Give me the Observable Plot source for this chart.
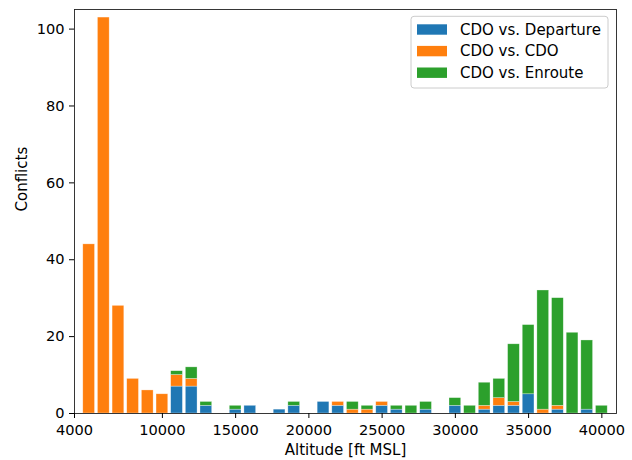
<!DOCTYPE html>
<html><head><meta charset="utf-8">
<script src="https://cdn.jsdelivr.net/npm/d3@7"></script>
<script src="https://cdn.jsdelivr.net/npm/@observablehq/plot@0.6"></script>
<style>body{margin:0;background:#fff} #chart{width:632px;height:460px}</style>
</head><body><div id="chart"></div>
<script>
const altitudes = [5000,6000,7000,8000,9000,10000,11000,12000,13000,14000,15000,16000,17000,18000,19000,20000,21000,22000,23000,24000,25000,26000,27000,28000,29000,30000,31000,32000,33000,34000,35000,36000,37000,38000,39000,40000];
const departure = [0,0,0,0,0,0, 7,7,2,0,1,2,0,1,2,0, 3,2,0,0,2,1,0,1,0,2, 0,1,2,2,5,0,1,0,1,0];
const cdo       = [44,103,28,9,6,5, 3,2,0,0,0,0,0,0,0,0, 0,1,1,1,1,0,0,0,0,0, 0,1,2,1,0,1,1,0,0,0];
const enroute   = [0,0,0,0,0,0, 1,3,1,0,1,0,0,0,1,0, 0,0,2,1,0,1,2,2,0,2, 2,6,5,15,18,31,28,21,18,2];
const seriesNames = ["CDO vs. Departure","CDO vs. CDO","CDO vs. Enroute"];
const seriesColors = ["#1f77b4","#ff7f0e","#2ca02c"];
const xTicks = [4000,10000,15000,20000,25000,30000,35000,40000];
const yTicks = [0,20,40,60,80,100];
const barWidth = 800;

const seriesValues = [departure, cdo, enroute];
const rows = [];
altitudes.forEach((alt, i) => {
  let base = 0;
  seriesValues.forEach((vals, s) => {
    const v = vals[i];
    if (v > 0) rows.push({alt, series: seriesNames[s], y1: base, y2: base + v});
    base += v;
  });
});

const font = "DejaVu Sans";
const tickFont = 14.6, labelFont = 15;
const chart = Plot.plot({
  width: 632, height: 460,
  marginLeft: 74, marginRight: 16, marginTop: 9, marginBottom: 47,
  x: {domain: [4000, 41000]},
  y: {domain: [0, 105.1]},
  color: {domain: seriesNames, range: seriesColors},
  style: {fontFamily: font, fontSize: tickFont + "px", color: "#000", background: "#fff"},
  marks: [
    Plot.rect(rows, {x1: d => d.alt - barWidth/2, x2: d => d.alt + barWidth/2, y1: "y1", y2: "y2", fill: "series", stroke: "white", strokeWidth: 0.6, strokeOpacity: 0.5, inset: 0}),
    Plot.frame({stroke: "#222", strokeWidth: 0.9}),
    Plot.axisX({ticks: xTicks, tickFormat: d => String(d), tickSize: 5, tickPadding: 6, label: null, fontSize: tickFont}),
    Plot.axisY({ticks: yTicks, tickFormat: d => String(d), tickSize: 5, tickPadding: 5, label: null, fontSize: tickFont}),
    Plot.text(["Altitude [ft MSL]"], {text: d => d, frameAnchor: "bottom", lineAnchor: "middle", dy: 37, fontSize: labelFont}),
    Plot.text(["Conflicts"], {text: d => d, frameAnchor: "left", lineAnchor: "middle", rotate: -90, dx: -52, fontSize: labelFont})
  ]
});
document.getElementById("chart").appendChild(chart);

const svg = d3.select(chart);
const lg = svg.append("g").attr("font-family", font).attr("font-size", labelFont).attr("text-anchor", "start");
lg.append("rect").attr("x", 411).attr("y", 16.3).attr("width", 197).attr("height", 71.7)
  .attr("rx", 3).attr("fill", "#fff").attr("fill-opacity", 0.8).attr("stroke", "#ccc");
seriesNames.forEach((name, i) => {
  const cy = 29.5 + i * 21.6;
  lg.append("rect").attr("x", 417).attr("y", cy - 5.2).attr("width", 30).attr("height", 10.4).attr("fill", seriesColors[i]);
  lg.append("text").attr("x", 460).attr("y", cy).attr("dy", "0.35em").attr("text-anchor", "start").attr("fill", "#000").text(name);
});
</script>
</body></html>
